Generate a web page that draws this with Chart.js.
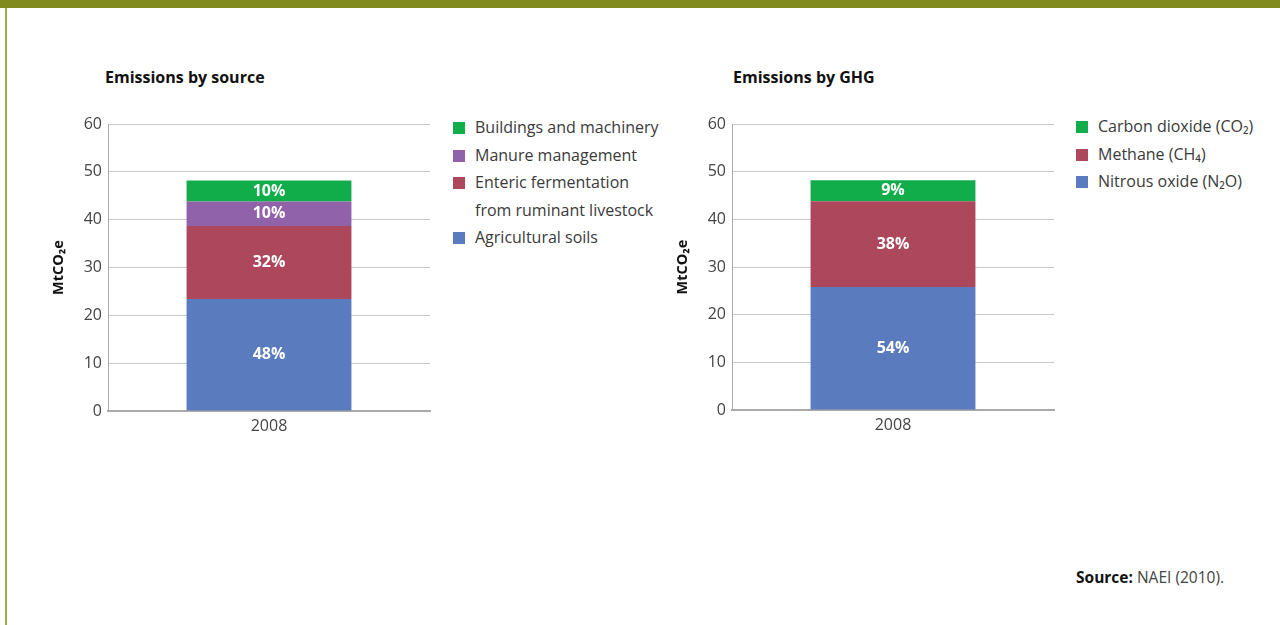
<!DOCTYPE html>
<html>
<head>
<meta charset="utf-8">
<script src="https://cdn.jsdelivr.net/npm/chart.js@4"></script>
<style>
  body { margin: 0; width: 1280px; height: 625px; background: #fff; position: relative; overflow: hidden;
         font-family: "Open Sans", sans-serif; color: #333; }
  .topbar { position: absolute; left: 0; top: 0; width: 1280px; height: 8px; background: #808a1f; }
  .leftline { position: absolute; left: 5px; top: 8px; width: 2px; height: 617px; background: #a2a94c; }
  .title { position: absolute; font-weight: bold; font-size: 16px; color: #111; }
  canvas { position: absolute; }
  .legend { position: absolute; font-size: 16px; color: #3a3a3a; }
  .legend .row { position: relative; padding-left: 22px; line-height: 27.5px; white-space: nowrap; }
  .legend .sw { position: absolute; left: 0; top: 8px; width: 12px; height: 12px; }
  .source { position: absolute; left: 1076px; top: 566px; font-size: 15.5px; color: #444; }
  .source b { color: #111; }
</style>
</head>
<body>
<div class="topbar"></div>
<div class="leftline"></div>

<div class="title" style="left:105px; top:66px;">Emissions by source</div>
<div class="title" style="left:733px; top:66px;">Emissions by GHG</div>

<canvas id="chartSource" width="400" height="345" style="left:40px; top:100px;"></canvas>
<canvas id="chartGhg" width="400" height="345" style="left:664px; top:100px;"></canvas>

<div class="legend" id="legendSource" style="left:453px; top:114px;"></div>
<div class="legend" id="legendGhg" style="left:1076px; top:113px;"></div>

<div class="source"><b>Source:</b> NAEI (2010).</div>

<script>
// Data
const years = ["2008"];

// Emissions by source (MtCO2e), bottom to top
const sourceNames = ["Agricultural soils", "Enteric fermentation<br>from ruminant livestock", "Manure management", "Buildings and machinery"];
const sourceValues = [23.4, 15.3, 5.1, 4.4];
const sourcePct = ["48%", "32%", "10%", "10%"];
const sourceColors = ["#5a7bbd", "#ad475c", "#8f62aa", "#12ad4b"];

// Emissions by GHG (MtCO2e), bottom to top
const ghgNames = ["Nitrous oxide (N₂O)", "Methane (CH₄)", "Carbon dioxide (CO₂)"];
const ghgValues = [25.8, 18.0, 4.4];
const ghgPct = ["54%", "38%", "9%"];
const ghgColors = ["#5a7bbd", "#ad475c", "#12ad4b"];

const yTicks = [0, 10, 20, 30, 40, 50, 60];

// white percentage labels in the middle of each segment
const pctLabels = {
  id: "pctLabels",
  afterDatasetsDraw(chart) {
    const ctx = chart.ctx;
    ctx.save();
    ctx.font = "bold 16px 'Open Sans'";
    ctx.fillStyle = "#fff";
    ctx.textAlign = "center";
    ctx.textBaseline = "middle";
    chart.data.datasets.forEach((ds, i) => {
      chart.getDatasetMeta(i).data.forEach(bar => {
        const mid = (bar.y + bar.base) / 2;
        ctx.fillText(ds.pct, bar.x, mid);
      });
    });
    ctx.restore();
  }
};

function makeChart(id, names, values, pct, colors, xHeight) {
  const datasets = values.map((v, i) => ({
    label: names[i],
    data: [v],
    pct: pct[i],
    backgroundColor: colors[i],
    barPercentage: 0.512,
    categoryPercentage: 1
  }));

  new Chart(document.getElementById(id), {
    type: "bar",
    data: { labels: years, datasets: datasets },
    plugins: [pctLabels],
    options: {
      responsive: false,
      animation: false,
      layout: { padding: { left: 0, top: 24, right: 10, bottom: 0 } },
      plugins: { legend: { display: false }, tooltip: { enabled: false } },
      scales: {
        x: {
          stacked: true,
          grid: { display: false },
          border: { color: "#aaa", width: 2 },
          ticks: { color: "#444", font: { family: "Open Sans", size: 16 }, padding: -2 },
          afterFit: s => { s.height = xHeight; }
        },
        y: {
          stacked: true,
          min: 0,
          max: 60,
          afterBuildTicks: s => { s.ticks = yTicks.map(v => ({ value: v })); },
          grid: { color: "#c8c8c8", drawTicks: false },
          border: { color: "#aaa", width: 1 },
          ticks: { color: "#444", font: { family: "Open Sans", size: 16 }, padding: 6 },
          title: {
            display: true,
            text: "MtCO₂e",
            color: "#111",
            font: { family: "Open Sans", size: 14.5, weight: "bold" },
            padding: { top: 10, bottom: 0 }
          },
          afterFit: s => { s.width = 68; }
        }
      }
    }
  });
}

function makeLegend(id, names, colors) {
  const box = document.getElementById(id);
  for (let i = names.length - 1; i >= 0; i--) {
    const row = document.createElement("div");
    row.className = "row";
    row.innerHTML = '<span class="sw" style="background:' + colors[i] + '"></span>' + names[i];
    box.appendChild(row);
  }
}

makeChart("chartSource", sourceNames, sourceValues, sourcePct, sourceColors, 34);
makeChart("chartGhg", ghgNames, ghgValues, ghgPct, ghgColors, 35);
makeLegend("legendSource", sourceNames, sourceColors);
makeLegend("legendGhg", ghgNames, ghgColors);
</script>
</body>
</html>
